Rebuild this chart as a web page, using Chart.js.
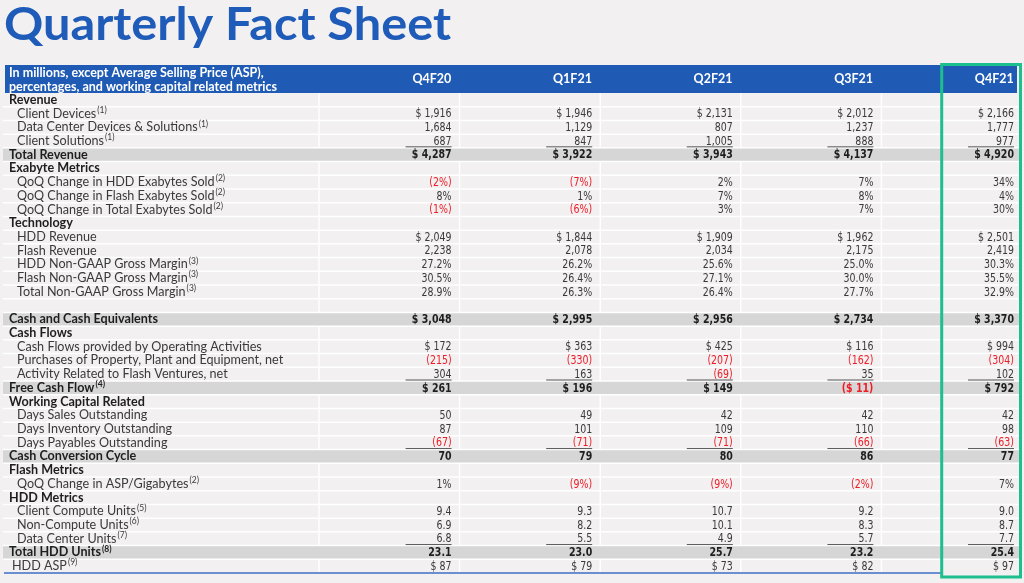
<!DOCTYPE html>
<html>
<head>
<meta charset="utf-8">
<script src="https://cdn.jsdelivr.net/npm/chart.js@4.4.1/dist/chart.umd.min.js"></script>
<style>
  html, body { margin: 0; padding: 0; background: #f2f0f1; }
</style>
</head>
<body>
<canvas id="factSheet" width="1024" height="583"></canvas>
<script>
const quarters = ['Q4F20', 'Q1F21', 'Q2F21', 'Q3F21', 'Q4F21'];

const rowLabels = [
  'Revenue', 'Client Devices', 'Data Center Devices & Solutions', 'Client Solutions', 'Total Revenue',
  'Exabyte Metrics', 'QoQ Change in HDD Exabytes Sold', 'QoQ Change in Flash Exabytes Sold', 'QoQ Change in Total Exabytes Sold',
  'Technology', 'HDD Revenue', 'Flash Revenue', 'HDD Non-GAAP Gross Margin', 'Flash Non-GAAP Gross Margin', 'Total Non-GAAP Gross Margin',
  '', 'Cash and Cash Equivalents',
  'Cash Flows', 'Cash Flows provided by Operating Activities', 'Purchases of Property, Plant and Equipment, net', 'Activity Related to Flash Ventures, net', 'Free Cash Flow',
  'Working Capital Related', 'Days Sales Outstanding', 'Days Inventory Outstanding', 'Days Payables Outstanding', 'Cash Conversion Cycle',
  'Flash Metrics', 'QoQ Change in ASP/Gigabytes',
  'HDD Metrics', 'Client Compute Units', 'Non-Compute Units', 'Data Center Units', 'Total HDD Units', 'HDD ASP'
];
// footnote number shown after each label
const rowNotes = [null, 1, 1, 1, null, null, 2, 2, 2, null, null, null, 3, 3, 3, null, null,
  null, null, null, null, 4, null, null, null, null, null, null, 2, null, 5, 6, 7, 8, 9];
const rowKinds = ['head', 'item', 'item', 'item', 'total', 'head', 'item', 'item', 'item',
  'head', 'item', 'item', 'item', 'item', 'item', 'blank', 'total',
  'head', 'item', 'item', 'item', 'total', 'head', 'item', 'item', 'item', 'total',
  'head', 'item', 'head', 'item', 'item', 'item', 'total', 'plain'];
const rowFormats = [null, 'usd', 'num', 'num', 'usd', null, 'pct', 'pct', 'pct',
  null, 'usd', 'num', 'pct1', 'pct1', 'pct1', null, 'usd',
  null, 'usd', 'num', 'num', 'usd', null, 'num', 'num', 'num', 'num',
  null, 'pct', null, 'dec1', 'dec1', 'dec1', 'dec1', 'usd'];

const q4f20 = [null, 1916, 1684, 687, 4287, null, -2, 8, -1, null, 2049, 2238, 27.2, 30.5, 28.9, null, 3048,
  null, 172, -215, 304, 261, null, 50, 87, -67, 70, null, 1, null, 9.4, 6.9, 6.8, 23.1, 87];
const q1f21 = [null, 1946, 1129, 847, 3922, null, -7, 1, -6, null, 1844, 2078, 26.2, 26.4, 26.3, null, 2995,
  null, 363, -330, 163, 196, null, 49, 101, -71, 79, null, -9, null, 9.3, 8.2, 5.5, 23.0, 79];
const q2f21 = [null, 2131, 807, 1005, 3943, null, 2, 7, 3, null, 1909, 2034, 25.6, 27.1, 26.4, null, 2956,
  null, 425, -207, -69, 149, null, 42, 109, -71, 80, null, -9, null, 10.7, 10.1, 4.9, 25.7, 73];
const q3f21 = [null, 2012, 1237, 888, 4137, null, 7, 8, 7, null, 1962, 2175, 25.0, 30.0, 27.7, null, 2734,
  null, 116, -162, 35, -11, null, 42, 110, -66, 86, null, -2, null, 9.2, 8.3, 5.7, 23.2, 82];
const q4f21 = [null, 2166, 1777, 977, 4920, null, 34, 4, 30, null, 2501, 2419, 30.3, 35.5, 32.9, null, 3370,
  null, 994, -304, 102, 792, null, 42, 98, -63, 77, null, 7, null, 9.0, 8.7, 7.7, 25.4, 97];

const columns = [q4f20, q1f21, q2f21, q3f21, q4f21];
const titleText = 'Quarterly Fact Sheet';
const headerLines = ['In millions, except Average Selling Price (ASP),', 'percentages, and working capital related metrics'];

const BLUE = '#1f5bb5';
const GRAY = '#d6d6d6';
const RED = '#ee1c25';
const TEXT = '#3a3a3a';
const LABEL_FONT = 'Lato, "Open Sans", sans-serif';
const NUM_FONT = '"Liberation Sans Narrow", "DejaVu Sans Condensed", sans-serif';

// size a font so a sample string gets the width it has in the picture
const probe = document.createElement('canvas').getContext('2d');
function fitSize(text, family, weight, target) {
  probe.font = weight + ' 100px ' + family;
  return Math.round(1000 * target / probe.measureText(text).width) / 10;
}
const labelSize = fitSize('Cash Flows provided by Operating Activities', LABEL_FONT, 'normal', 244);
const headSize = fitSize(headerLines[0], LABEL_FONT, 'bold', 254);
// numbers keep their height and get squeezed sideways to the narrow figures of the sheet
const NUM_SIZE = 12.5;
const numSqueeze = Math.min(1, fitSize('27.2%', NUM_FONT, 'normal', 30) / NUM_SIZE);

function fmt(v, f) {
  const a = Math.abs(v);
  let s;
  if (f === 'usd') s = '$ ' + a.toLocaleString('en-US');
  else if (f === 'num') s = a.toLocaleString('en-US');
  else if (f === 'pct') s = a + '%';
  else if (f === 'pct1') s = a.toFixed(1) + '%';
  else s = a.toFixed(1);
  return v < 0 ? '(' + s + ')' : s;
}

const sheetPlugin = {
  id: 'sheet',
  beforeDraw(chart) {
    const { ctx, chartArea: a, scales: { x, y } } = chart;
    const rowH = y.getPixelForValue(1) - y.getPixelForValue(0);
    ctx.save();
    // header band
    ctx.fillStyle = BLUE;
    ctx.fillRect(5, x.top + 1, 1012, x.bottom - x.top - 1);
    // column dividers
    ctx.strokeStyle = '#ffffff';
    ctx.lineWidth = 1.5;
    const divs = [a.left];
    for (let j = 1; j < quarters.length; j++) divs.push((x.getPixelForValue(j - 1) + x.getPixelForValue(j)) / 2);
    divs.forEach(px => {
      ctx.beginPath(); ctx.moveTo(px, a.top); ctx.lineTo(px, a.bottom); ctx.stroke();
    });
    // shaded total rows
    ctx.fillStyle = GRAY;
    rowKinds.forEach((k, i) => {
      if (k !== 'total') return;
      const yc = y.getPixelForValue(i);
      ctx.fillRect(3, yc - rowH / 2, a.right - 3, rowH);
    });
    // row separators
    for (let i = 1; i < rowLabels.length; i++) {
      const py = y.getPixelForValue(i) - rowH / 2;
      ctx.beginPath(); ctx.moveTo(3, py); ctx.lineTo(a.right - 2, py); ctx.stroke();
    }
    ctx.restore();
  },
  afterDraw(chart) {
    const { ctx, chartArea: a, scales: { x, y } } = chart;
    const rowH = y.getPixelForValue(1) - y.getPixelForValue(0);
    const colW = x.getPixelForValue(1) - x.getPixelForValue(0);
    ctx.save();

    // page title, stretched to the width of the original lettering
    ctx.font = 'bold 46px ' + LABEL_FONT;
    ctx.fillStyle = '#1f5bb8';
    ctx.textAlign = 'left';
    ctx.textBaseline = 'alphabetic';
    const tw = ctx.measureText(titleText).width;
    ctx.save();
    ctx.translate(4, 40);
    ctx.scale(447 / tw, 1);
    ctx.fillText(titleText, 0, 0);
    ctx.restore();

    ctx.textBaseline = 'middle';
    // header caption
    ctx.fillStyle = '#ffffff';
    ctx.font = 'bold ' + headSize + 'px ' + LABEL_FONT;
    ctx.fillText(headerLines[0], 9, x.top + 9);
    ctx.fillText(headerLines[1], 9, x.top + 23);

    // row labels
    rowLabels.forEach((label, i) => {
      const k = rowKinds[i];
      if (k === 'blank') return;
      const yc = y.getPixelForValue(i);
      const bold = k === 'head' || k === 'total';
      const lx = bold ? 9 : (k === 'plain' ? 12 : 17);
      ctx.font = (bold ? 'bold ' : '') + labelSize + 'px ' + LABEL_FONT;
      ctx.fillStyle = bold ? '#1e1e1e' : TEXT;
      ctx.fillText(label, lx, yc);
      if (rowNotes[i]) {
        const w = ctx.measureText(label).width;
        ctx.font = (bold ? 'bold ' : '') + '8.5px ' + LABEL_FONT;
        ctx.fillText('(' + rowNotes[i] + ')', lx + w + 1, yc - 3.5);
      }
    });

    // values
    ctx.textAlign = 'right';
    columns.forEach((col, j) => {
      const rx = x.getPixelForValue(j) + colW / 2 - 8;
      col.forEach((v, i) => {
        if (v === null) return;
        const yc = y.getPixelForValue(i);
        const bold = rowKinds[i] === 'total';
        ctx.font = (bold ? 'bold ' : '') + NUM_SIZE + 'px ' + NUM_FONT;
        ctx.fillStyle = v < 0 ? RED : (bold ? '#1e1e1e' : TEXT);
        ctx.save();
        ctx.translate(rx, yc + 0.5);
        ctx.scale(numSqueeze, 1);
        ctx.fillText(fmt(v, rowFormats[i]), 0, 0);
        ctx.restore();
        if (rowKinds[i] === 'item' && rowKinds[i + 1] === 'total') {
          ctx.strokeStyle = '#555555';
          ctx.lineWidth = 1;
          ctx.beginPath();
          ctx.moveTo(rx - 46, yc + rowH / 2 - 1);
          ctx.lineTo(rx, yc + rowH / 2 - 1);
          ctx.stroke();
        }
      });
    });

    // bottom rule, up to the highlight box
    const bx = x.getPixelForValue(quarters.length - 1) - 10;
    const last = columns[0].length - 1;
    const lastY = y.getPixelForValue(last) + rowH / 2;
    ctx.strokeStyle = '#6a8ed0';
    ctx.lineWidth = 2;
    ctx.beginPath(); ctx.moveTo(4, lastY); ctx.lineTo(bx, lastY); ctx.stroke();

    // highlight box around the latest quarter
    ctx.strokeStyle = '#1dbf8e';
    ctx.lineWidth = 3;
    ctx.strokeRect(bx, x.top + 0.5, a.right - bx - 1.5, lastY + 3.5 - x.top);
    ctx.restore();
  }
};

new Chart(document.getElementById('factSheet'), {
  type: 'bar',
  data: { labels: quarters, datasets: [] },
  options: {
    responsive: false,
    animation: false,
    devicePixelRatio: 1,
    layout: { padding: { left: 5, right: 2, top: 64, bottom: 10 } },
    plugins: {
      legend: { display: false },
      tooltip: { enabled: false },
      title: { display: false }
    },
    scales: {
      x: {
        type: 'category',
        position: 'top',
        offset: true,
        grid: { display: false, drawTicks: false },
        border: { display: false },
        ticks: {
          color: '#ffffff',
          align: 'end',
          labelOffset: 62,
          padding: 7,
          autoSkip: false,
          maxRotation: 0,
          font: { family: LABEL_FONT, size: 12.5, weight: 'bold' }
        },
        afterFit: s => { s.height = 29; }
      },
      y: {
        type: 'category',
        labels: rowLabels.map((l, i) => i + ':' + l),
        offset: true,
        grid: { display: false, drawTicks: false },
        border: { display: false },
        ticks: { display: false },
        afterFit: s => { s.width = 314; }
      }
    }
  },
  plugins: [sheetPlugin]
});
</script>
</body>
</html>
